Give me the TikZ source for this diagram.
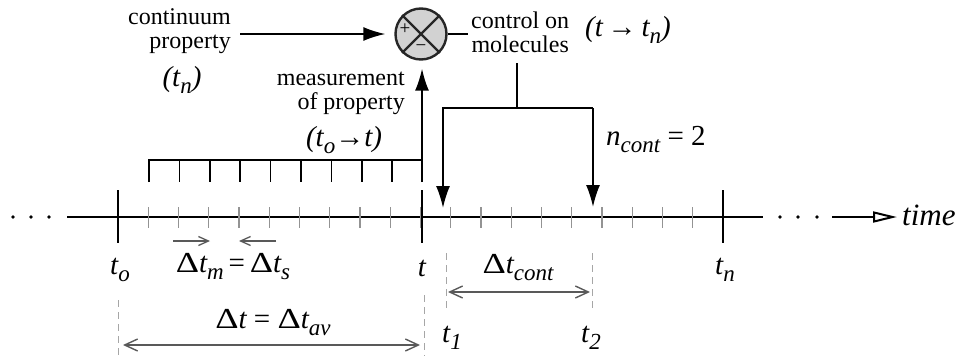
\documentclass[tikz,border=0pt]{standalone}
\usepackage{fontspec}
\setmainfont{Liberation Serif}
\usetikzlibrary{arrows.meta,positioning}
\newcommand{\D}{\textup{\scalebox{1.25}[1]{Δ}}}
\newcommand{\lo}[1]{\raisebox{-7pt}{\fontsize{23}{23}\selectfont\itshape #1}}
\tikzset{
  >={Latex[length=22pt,width=14pt]},
  tag/.style={font=\fontsize{24}{24}\selectfont,align=center,inner sep=0pt},
  var/.style={font=\fontsize{29}{29}\selectfont\itshape,inner sep=0pt},
  sign/.style={font=\fontsize{19}{19}\selectfont,inner sep=0pt},
  axis/.style={line width=2pt},
  major/.style={line width=2.4pt},
  minor/.style={draw=gray!85,line width=1.3pt},
  comb/.style={line width=1.5pt},
  flow/.style={->,line width=1.6pt},
  sumnode/.style={circle,draw=black!85,fill=gray!35,line width=2.4pt,minimum size=51pt,inner sep=0pt},
  timearrow/.style={-{Triangle[open,length=24pt,width=11pt]},line width=2pt},
  dim/.style={{Straight Barb[length=13pt,width=12pt]}-{Straight Barb[length=13pt,width=12pt]},draw=black!65,line width=1.4pt},
  small/.style={-{Straight Barb[length=10pt,width=9pt]},draw=black!65,line width=1.3pt},
  guide/.style={draw=gray!70,line width=1pt,dash pattern=on 7pt off 5pt},
}
\begin{document}
\begin{tikzpicture}[x=1pt,y=1pt]
\useasboundingbox (0,0) rectangle (962,-356);
% time axis
\coordinate (axL) at (67,-217);
\coordinate (axR) at (763,-217);
\coordinate (to) at (118,-217);
\coordinate (t) at (422,-217);
\coordinate (tn) at (723,-217);
\draw[axis] (axL) -- (axR);
\foreach \i in {1,...,19}
  \draw[minor] (118+\i*30.25,-207) -- (118+\i*30.25,-228);
\foreach \p in {to,t,tn}
  \draw[major] ([yshift=27pt]\p) -- ([yshift=-26pt]\p);
\foreach \x in {13,31,49,780,798,817}
  \fill (\x,-217) circle (1.8);
\node[var,font=\fontsize{31}{31}\selectfont\itshape,anchor=west] (time) at (902,-215) {time};
\coordinate (tail) at (832,-217);
\draw[timearrow,shorten >=5pt] (tail) -- (time.west |- tail);

% sampling comb and measurement
\draw[comb] (149,-182) -- (149,-160) -- (422,-160);
\foreach \k in {1,...,8}
  \draw[comb] (149+\k*30.4,-160) -- ++(0,-22);
\node[sumnode] (sum) at (421,-34) {};
\draw[line width=2.2pt,black!85] (sum.north west) -- (sum.south east) (sum.north east) -- (sum.south west);
\node[sign] (plus) at ([xshift=-16pt,yshift=5pt]sum.center) {+};
\node[sign] (minus) at ([yshift=-14pt]sum.center) {−};
\coordinate (mstart) at (422,-182);
\draw[flow,shorten >=8pt] (mstart) -- (mstart |- sum.south);
\node[tag,anchor=east,align=right] (meas) at (405,-93) {measurement\\of property};
\node[var] (meast) at (344,-140) {(t\lo{o}→t)};

% continuum property
\node[tag,anchor=east,align=right] (cont) at (231,-31) {continuum\\property};
\node[var] (contt) at (182,-80) {(t\lo{n})};
\draw[flow,shorten <=9pt,shorten >=9pt] (cont.east |- sum.west) -- (sum.west);

% control on molecules
\node[tag,anchor=west] (ctrl) at (471,-32) {control on\\molecules};
\node[var,anchor=west] (ctrlt) at (585,-30) {(t\,→\,t\lo{n})};
\draw[comb,shorten >=3pt] (sum.east) -- (ctrl.west |- sum.east);
\coordinate (brT) at (517,-63);
\coordinate (brL) at (443,-108);
\coordinate (brR) at (593,-108);
\draw[comb] (brT) -- (brT |- brL);
\draw[flow,shorten >=9pt] (brR) -- (brL) -- (brL |- axL);
\draw[flow,shorten >=10pt] (brR) -- (brR |- axL);
\node[var,anchor=west] (ncont) at (606,-140) {n\lo{cont}\upshape\ = 2};

% labels below the axis
\node[var] (lto) at (120,-270) {t\lo{o}};
\node[var] (lt) at (422,-268) {t};
\node[var] (ltn) at (725,-270) {t\lo{n}};
\node[var] (dtm) at (233,-267) {\D t\lo{m}\upshape\,=\,\D\itshape t\lo{s}};
\coordinate (ma1) at (173,-241);
\coordinate (ma2) at (210,-241);
\coordinate (mb1) at (276,-241);
\coordinate (mb2) at (239,-241);
\draw[small] (ma1) -- (ma2);
\draw[small] (mb1) -- (mb2);

% guides and spans
\coordinate (g0) at (118,-300);
\coordinate (gt) at (424,-295);
\coordinate (g1) at (446,-253);
\coordinate (g2) at (592,-253);
\draw[guide] (g0) -- ++(0,-56);
\draw[guide] (gt) -- ++(0,-61);
\draw[guide] (g1) -- ++(0,-58);
\draw[guide] (g2) -- ++(0,-58);
\node[var] (dtav) at (273,-323) {\D t\upshape\ = \D\itshape t\lo{av}};
\coordinate (avL) at (123,-345);
\coordinate (avR) at (420,-345);
\draw[dim] (avL) -- (avR);
\node[var] (dtc) at (518,-268) {\D t\lo{cont}};
\coordinate (cL) at (448,-292);
\coordinate (cR) at (590,-292);
\draw[dim] (cL) -- (cR);
\node[var] (lt1) at (452,-338) {t\lo{1}};
\node[var] (lt2) at (591,-338) {t\lo{2}};
\end{tikzpicture}
\end{document}
